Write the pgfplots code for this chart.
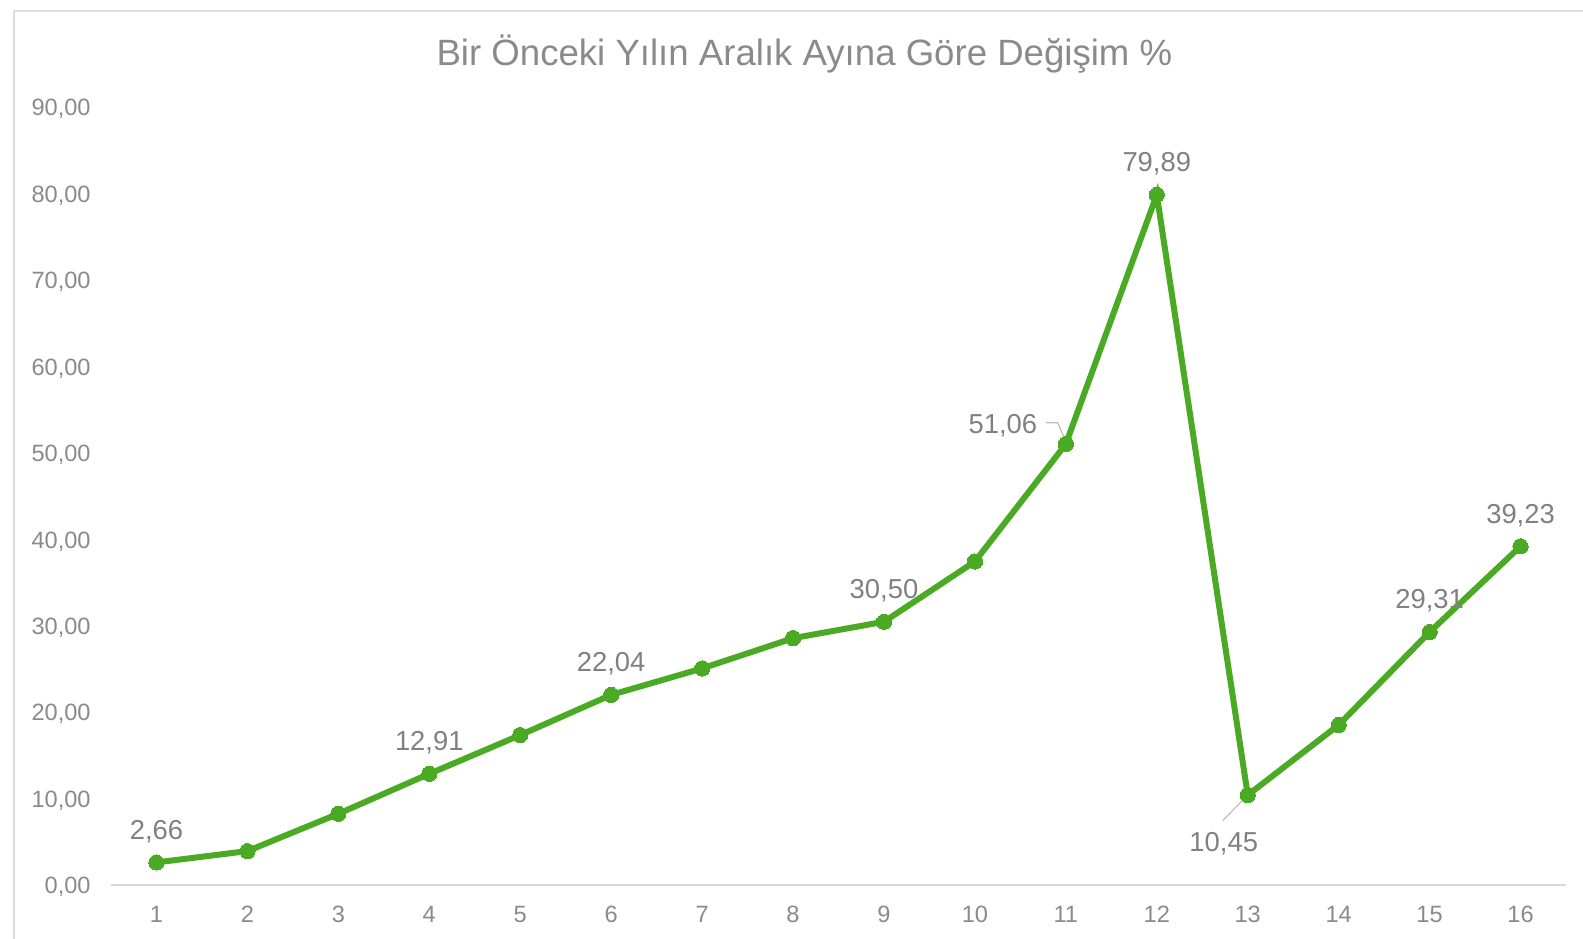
\documentclass[border=0pt]{standalone}
\usepackage{pgfplots}
\pgfplotsset{compat=1.18}
\usepackage{fontspec}
\setmainfont{Liberation Sans}
\definecolor{lgreen}{HTML}{4BAA23}
\definecolor{tgray}{HTML}{8A8A8A}
\definecolor{lblgray}{HTML}{808080}
\definecolor{framegray}{HTML}{DCDCDC}
\definecolor{axgray}{HTML}{D9D9D9}
\definecolor{leadgray}{HTML}{BFBFBF}
\begin{document}
\begin{tikzpicture}
\useasboundingbox (0,0) rectangle (791.5pt,-469pt);
\draw[framegray, line width=1pt] (7pt,-5.5pt) rectangle (820pt,-500pt);
\node[anchor=base, text=tgray, font=\fontsize{18.3pt}{21pt}\selectfont, inner sep=0pt] at (402.2pt,-32.5pt) {Bir Önceki Yılın Aralık Ayına Göre Değişim \%};
\begin{axis}[
  at={(55.5pt,-442.7pt)}, anchor=south west,
  scale only axis, width=727.5pt, height=389pt,
  xmin=0.5, xmax=16.5, ymin=0, ymax=90,
  clip=false,
  axis line style={draw=none},
  xtick={1,...,16},
  ytick={0,10,...,90},
  major tick length=0pt,
  tick style={draw=none},
  /pgf/number format/assume math mode=true,
  yticklabel={\pgfmathprintnumber[fixed,fixed zerofill,precision=2,use comma]{\tick}},
  xticklabel={\pgfmathprintnumber[fixed,precision=0]{\tick}},
  tick label style={text=tgray, font=\fontsize{11.8pt}{14pt}\selectfont, inner sep=0pt},
  yticklabel style={anchor=base east, yshift=-4.2pt},
  yticklabel shift=10pt,
  xticklabel style={anchor=base},
  xticklabel shift=18.5pt,
]
\draw[axgray, line width=1pt] (axis cs:0.5,0) -- (axis cs:16.5,0);
\addplot[lgreen, line width=3pt, mark=*, mark size=3.8pt, mark options={fill=lgreen, draw=lgreen, line width=0pt}] coordinates {
(1,2.66) (2,3.97) (3,8.29) (4,12.91) (5,17.39) (6,22.04) (7,25.10) (8,28.60)
(9,30.50) (10,37.47) (11,51.06) (12,79.89) (13,10.45) (14,18.56) (15,29.31) (16,39.23)
};
\addplot[draw=none, mark=none, point meta=y,
  nodes near coords={\pgfmathprintnumber[fixed,fixed zerofill,precision=2,use comma]{\pgfplotspointmeta}},
  every node near coord/.style={anchor=base, yshift=11.6pt, inner sep=0pt, text=lblgray, font=\fontsize{13.7pt}{16pt}\selectfont}]
coordinates {(1,2.66) (4,12.91) (6,22.04) (9,30.50) (12,79.89) (15,29.31) (16,39.23)};
\addplot[draw=none, mark=none, point meta=y,
  nodes near coords={\pgfmathprintnumber[fixed,fixed zerofill,precision=2,use comma]{\pgfplotspointmeta}},
  every node near coord/.style={anchor=base, xshift=-31.5pt, yshift=5.1pt, inner sep=0pt, text=lblgray, font=\fontsize{13.7pt}{16pt}\selectfont}]
coordinates {(11,51.06)};
\addplot[draw=none, mark=none, point meta=y,
  nodes near coords={\pgfmathprintnumber[fixed,fixed zerofill,precision=2,use comma]{\pgfplotspointmeta}},
  every node near coord/.style={anchor=base, xshift=-12pt, yshift=-28.4pt, inner sep=0pt, text=lblgray, font=\fontsize{13.7pt}{16pt}\selectfont}]
coordinates {(13,10.45)};
\draw[leadgray, line width=0.6pt] ([shift={(-10pt,10.65pt)}]axis cs:11,51.06) -- ([shift={(-4pt,10.65pt)}]axis cs:11,51.06) -- ([shift={(0.5pt,0pt)}]axis cs:11,51.06);
\draw[leadgray, line width=0.6pt] ([shift={(-12.5pt,-12.75pt)}]axis cs:13,10.45) -- (axis cs:13,10.45);
\end{axis}
\end{tikzpicture}
\end{document}
